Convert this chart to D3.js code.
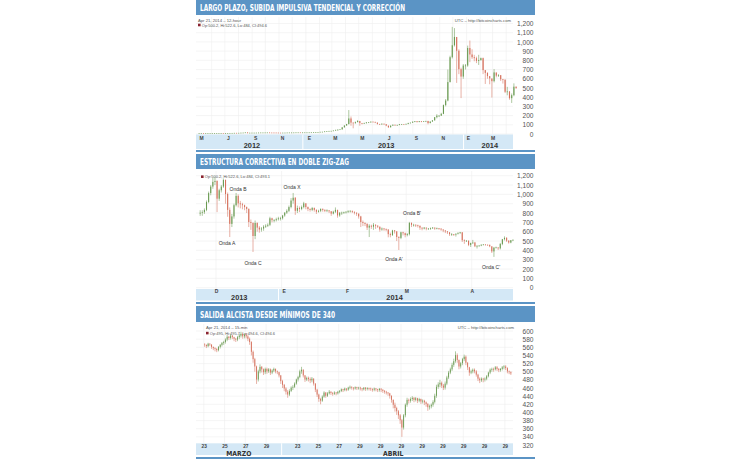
<!DOCTYPE html>
<html><head><meta charset="utf-8">
<script src="https://cdn.jsdelivr.net/npm/d3@7/dist/d3.min.js"></script>
<style>html,body{margin:0;padding:0;background:#fff}svg{display:block}</style>
</head><body>
<svg id="chart" width="730" height="460"></svg>
<script>
// ---------------- DATA ----------------
const titles = ["LARGO PLAZO, SUBIDA IMPULSIVA TENDENCIAL Y CORRECCIÓN",
                "ESTRUCTURA CORRECTIVA EN DOBLE ZIG-ZAG",
                "SALIDA ALCISTA DESDE MÍNIMOS DE 340"];
const monthLetters = ["E","F","M","A","M","J","J","A","S","O","N","D"];

// Panel 1: 5-day candles from 2012-05-01
const p1Start = "2012-05-01T00:00:00Z";
const p1Open0 = 5.0;
const p1Close = [5.0,5.1,4.9,5.1,5.1,5.1,5.2,5.4,5.6,6.3,
 6.6,6.4,6.7,6.8,7.4,7.6,8.8,8.7,9.2,10.9,
 11.2,13.5,10.0,10.5,10.6,10.6,11.0,11.6,12.2,12.2,
 12.4,12.8,11.9,11.8,11.7,11.3,10.7,10.6,10.9,11.0,
 11.8,12.3,12.4,12.6,13.4,13.5,13.2,13.3,13.4,13.4,
 13.6,14.2,15.2,17.0,17.9,20.4,21.0,24.5,27.0,29.9,
 31.0,34.5,42.0,44.0,47.0,69.0,89.0,104,165,120,
 118,127,138,116,112,117,123,123,131,129,
 121,106,101,109,103,88,70,88,98,91,
 96,105,105,104,107,117,120,131,137,128,
 137,131,134,139,115,132,145,179,195,196,
 215,310,360,560,830,960,1050,900,700,620,
 740,740,930,860,830,820,790,800,820,690,
 660,625,600,570,665,630,635,590,585,455,
 458,385,418,510,495];
const p1High = [5.2,5.2,5.1,5.2,5.2,5.2,5.3,5.5,5.8,6.5,
 6.8,6.7,6.8,7.0,7.6,7.8,9.0,9.0,9.4,11.0,
 11.6,13.8,15.4,11.0,10.9,10.9,11.2,11.8,12.5,12.4,
 12.6,13.0,12.8,12.0,11.9,11.8,11.3,10.8,11.0,11.2,
 11.9,12.5,12.6,12.8,13.6,13.7,13.5,13.4,13.6,13.6,
 13.8,14.3,15.5,17.5,18.5,20.8,22.0,25.0,27.5,30.5,
 32.0,35.0,43.0,48.0,48.0,72.0,93.0,110,260,190,
 125,135,150,140,118,120,126,126,134,132,
 130,122,106,112,110,103,88,90,100,98,
 98,106,107,106,110,119,122,133,140,138,
 139,138,136,141,140,134,148,182,215,203,
 230,320,380,700,850,1163,1150,1050,920,720,
 760,760,960,1015,920,860,840,860,830,830,
 693,670,625,600,705,665,650,640,598,595,
 512,466,440,550,516];
const p1Low = [4.9,4.9,4.8,4.9,5.0,5.0,5.1,5.2,5.4,5.6,
 6.2,6.2,6.4,6.6,6.8,7.3,7.6,8.4,8.6,9.2,
 10.8,11.2,7.1,9.8,10.2,10.3,10.5,11.0,11.6,12.0,
 12.1,12.3,11.6,11.6,11.5,11.0,10.4,10.4,10.6,10.8,
 11.0,11.8,12.2,12.3,12.6,13.3,13.0,13.1,13.2,13.2,
 13.4,13.6,14.2,15.2,17.0,17.9,20.0,21.0,24.5,27.0,
 29.5,31.0,34.5,37.0,44.0,47.0,69.0,89,104,90,
 62,110,125,90,105,110,112,119,122,125,
 118,102,98,100,100,85,66,70,87,88,
 90,95,103,102,103,106,116,120,128,124,
 127,128,130,132,105,115,132,145,170,185,
 195,215,300,355,560,820,950,555,650,390,
 600,700,730,780,815,790,770,750,795,650,
 543,600,540,396,560,615,620,575,548,445,
 420,372,337,410,490];
const p1YTicks = [0,100,200,300,400,500,600,700,800,900,1000,1100,1200];
const p1MonthTicks = ["2012-05-08","2012-07-08","2012-09-08","2012-11-08","2013-01-08","2013-03-08",
                      "2013-05-08","2013-07-08","2013-09-08","2013-11-08","2014-01-04","2014-03-01"];
const p1Groups = [["2012","2012-05-01","2013-01-01"],["2013","2013-01-01","2014-01-01"],["2014","2014-01-01","2014-04-22"]];

// Panel 2: daily candles from 2013-11-23
const p2Start = "2013-11-23T00:00:00Z";
const p2Open0 = 790;
const p2Close = [800,805,830,915,1010,1080,1130,1140,
 950,1040,1080,1150,1000,830,680,760,880,980,
 900,890,880,860,840,700,690,550,690,640,
 620,630,650,660,670,740,720,720,730,740,740,
 770,800,820,860,930,960,820,850,840,860,
 900,860,840,830,850,830,810,820,840,830,
 820,825,815,790,810,830,770,800,800,805,810,
 815,820,810,800,790,760,700,690,680,640,
 660,650,670,660,650,620,630,625,620,570,
 560,610,600,540,530,590,580,560,
 570,690,670,670,665,660,640,630,640,630,
 630,635,640,630,635,630,620,610,600,590,
 570,570,565,575,585,590,505,500,500,455,475,
 480,440,445,448,458,460,457,456,440,385,
 425,428,418,465,516,530,500,480,505,510];
const p2High = [830,830,850,935,1030,1100,1175,1180,
 1150,1060,1100,1170,1160,1020,860,790,900,1015,
 1000,930,910,890,870,850,730,700,720,700,
 660,650,670,680,690,760,750,735,750,760,760,
 780,810,840,880,960,1015,970,880,870,880,
 920,905,870,850,865,860,840,835,850,850,
 840,840,830,820,825,860,835,810,815,815,820,
 830,830,825,815,805,795,770,720,700,690,
 680,675,693,680,670,655,645,640,635,625,
 590,620,618,605,550,600,600,590,
 585,705,700,685,680,675,665,645,650,645,
 640,645,650,645,645,640,635,625,615,605,
 595,585,575,580,590,598,595,518,510,505,483,
 512,490,455,455,462,466,463,461,460,442,
 437,440,432,480,522,550,542,508,510,516];
const p2Low = [770,770,790,820,905,990,1060,1100,
 810,930,1020,1070,900,760,543,650,740,870,
 860,850,840,830,800,650,620,383,520,600,
 590,600,610,640,650,660,700,700,710,720,720,
 730,760,790,810,850,900,780,800,810,830,
 850,840,820,815,820,815,790,805,810,815,
 810,810,800,770,785,800,750,760,780,790,795,
 800,805,800,785,770,740,650,660,660,618,
 543,630,620,630,640,600,610,610,605,540,
 540,555,580,500,404,520,560,540,
 550,560,650,655,650,645,620,615,625,615,
 620,620,630,620,625,620,610,595,585,575,
 555,555,555,548,570,575,490,470,490,445,436,
 470,435,420,440,445,454,452,450,434,372,
 330,421,404,410,455,506,490,472,476,499];
const p2YTicks = [0,100,200,300,400,500,600,700,800,900,1000,1100,1200];
const p2MonthTicks = ["2013-12-01","2014-01-02","2014-02-01","2014-03-01","2014-04-01"];
const p2Groups = [["2013","2013-11-22","2014-01-01"],["2014","2014-01-01","2014-04-18"]];
const p2Notes = [
  {label:"Onda B",  date:"2013-12-11T10:00:00Z", value:1058},
  {label:"Onda X",  date:"2014-01-06T00:00:00Z", value:1079},
  {label:"Onda A",  date:"2013-12-06T05:00:00Z", value:479},
  {label:"Onda C",  date:"2013-12-18T12:00:00Z", value:265},
  {label:"Onda B'", date:"2014-03-03T18:00:00Z", value:800},
  {label:"Onda A'", date:"2014-02-23T05:00:00Z", value:308},
  {label:"Onda C'", date:"2014-04-10T03:00:00Z", value:222}
];

// Panel 3: 4-hour candles from 2014-03-23
const p3Start = "2014-03-23T00:00:00Z";
const p3Open0 = 566;
const p3Close = [565,562,568,566,560,557,
 555,552,560,565,570,572,
 578,585,582,588,584,580,
 578,584,588,592,586,590,
 586,580,572,548,530,512,
 480,500,511,505,498,506,
 500,505,497,502,506,500,
 498,490,476,467,458,450,
 443,452,460,462,470,480,
 486,500,504,490,480,484,
 481,478,482,470,455,443,
 432,428,438,448,440,446,
 450,447,445,448,446,450,
 452,456,454,458,455,460,
 462,460,458,461,459,460,
 458,456,460,457,459,458,
 457,455,458,456,454,457,
 455,452,450,448,446,440,
 430,418,410,402,392,380,
 362,392,418,430,428,432,
 435,430,434,428,432,426,
 428,424,420,412,414,418,
 425,440,462,468,472,465,
 460,470,485,497,505,516,
 525,540,528,512,520,530,
 536,521,510,497,500,504,
 500,492,482,478,482,480,
 482,488,497,504,506,505,
 510,506,503,506,510,512,
 508,500,498,495];
const p3High = [570,567,571,570,567,562,
 560,558,563,568,573,576,
 582,590,588,592,590,586,
 583,588,593,598,594,594,
 595,590,584,575,552,534,
 515,505,518,514,508,510,
 510,509,508,506,510,508,
 503,500,492,480,470,462,
 455,457,464,467,474,483,
 490,505,512,506,492,488,
 488,486,487,484,472,458,
 446,436,442,452,450,450,
 455,452,450,452,450,453,
 455,459,458,461,459,463,
 466,464,462,464,463,463,
 463,460,462,462,462,461,
 461,459,461,460,458,460,
 460,457,455,453,450,448,
 442,432,424,414,406,396,
 384,396,422,436,434,437,
 440,438,438,436,436,434,
 432,431,427,423,419,422,
 430,446,468,474,480,476,
 470,476,490,502,510,522,
 532,550,545,530,524,534,
 542,540,524,512,505,508,
 508,504,495,486,486,485,
 486,492,500,508,510,510,
 514,514,509,509,514,516,
 516,511,503,501];
const p3Low = [561,558,560,563,556,553,
 550,548,550,557,562,566,
 569,575,578,579,580,575,
 573,575,580,584,581,582,
 582,575,566,540,522,500,
 470,476,496,498,492,494,
 495,497,492,494,499,496,
 494,486,470,460,452,444,
 436,440,450,455,460,468,
 476,484,495,486,475,477,
 476,472,474,466,450,438,
 426,420,426,436,436,438,
 444,443,441,443,442,444,
 447,450,450,452,452,453,
 457,456,454,456,455,456,
 454,452,454,453,454,454,
 453,451,452,452,450,451,
 450,448,446,444,441,434,
 424,410,402,394,384,372,
 340,358,388,414,422,424,
 428,425,427,423,425,421,
 422,418,414,404,407,410,
 414,422,436,458,462,460,
 455,456,467,482,494,502,
 512,522,522,506,508,516,
 526,516,504,490,494,496,
 496,488,477,472,475,474,
 476,479,486,494,500,500,
 503,502,499,500,503,506,
 504,496,494,492];
const p3YTicks = [320,340,360,380,400,420,440,460,480,500,520,540,560,580,600];
const p3DayTicks = ["2014-03-23","2014-03-25","2014-03-27","2014-03-29","2014-04-01","2014-04-03","2014-04-05",
  "2014-04-07","2014-04-09","2014-04-11","2014-04-13","2014-04-15","2014-04-17","2014-04-19","2014-04-21"];
const p3DayLabels = ["23","25","27","29","23","25","27","29","29","29","29","29","29","29","29"];
const p3Groups = [["MARZO","2014-03-22T06:00:00Z","2014-03-30T12:00:00Z"],["ABRIL","2014-03-30T12:00:00Z","2014-04-21T00:00:00Z"]];

// ---------------- STYLE ----------------
const BLUE = "#5b94c5", BAND = "#d4e8f6", GRID = "#eeeeee", UP = "#6a9a52", DOWN = "#d5705b";
const NARROW = "'Liberation Sans Narrow','DejaVu Sans Condensed','Arial Narrow',sans-serif";
const SANS = "'Liberation Sans',Arial,Helvetica,sans-serif";
const svg = d3.select("#chart");
const toDate = s => new Date(s.length === 10 ? s + "T00:00:00Z" : s);

function drawPanel(cfg) {
  const g = svg.append("g");
  const x = d3.scaleUtc().domain(cfg.xDomain.map(toDate)).range(cfg.xRange);
  const y = d3.scaleLinear().domain(cfg.yDomain).range(cfg.yRange);
  const bx0 = 196, bx1 = 513;

  // title bar
  g.append("rect").attr("x", 196).attr("y", cfg.barY).attr("width", 339).attr("height", cfg.barH).attr("fill", BLUE);
  g.append("text").attr("x", 200).attr("y", cfg.titleY).text(cfg.title)
    .attr("fill", "#fff").attr("font-family", NARROW).attr("font-weight", "bold").attr("font-size", 8.6)
    .attr("textLength", cfg.titleLen).attr("lengthAdjust", "spacingAndGlyphs");

  // grid
  const grid = g.append("g").attr("stroke", GRID).attr("stroke-width", 0.6);
  grid.selectAll("line.h").data(cfg.yTicks).join("line").attr("class", "h")
    .attr("x1", bx0).attr("x2", bx1).attr("y1", d => y(d)).attr("y2", d => y(d));
  grid.selectAll("line.v").data(cfg.vGrid).join("line").attr("class", "v")
    .attr("x1", d => x(d)).attr("x2", d => x(d)).attr("y1", cfg.plotTop).attr("y2", cfg.bandTop);

  // header texts
  if (cfg.dateText) g.append("text").attr("x", cfg.textX).attr("y", cfg.dateY).text(cfg.dateText)
    .attr("font-family", SANS).attr("font-size", 4.2).attr("fill", "#555");
  if (cfg.utcText) g.append("text").attr("x", cfg.utcX).attr("y", cfg.dateY).attr("text-anchor", "end").text(cfg.utcText)
    .attr("font-family", SANS).attr("font-size", 4.2).attr("fill", "#555");
  g.append("rect").attr("x", cfg.textX).attr("y", cfg.legY - 2.8).attr("width", 2.6).attr("height", 2.6).attr("fill", "#8a2330");
  g.append("text").attr("x", cfg.textX + 3.8).attr("y", cfg.legY).text(cfg.legText)
    .attr("font-family", SANS).attr("font-size", 4.0).attr("fill", "#555");

  // candles
  const t0 = toDate(cfg.start);
  const data = cfg.close.map((c, i) => ({
    t: cfg.step(t0, i), o: i ? cfg.close[i - 1] : cfg.open0, c, h: cfg.high[i], l: cfg.low[i]
  }));
  const bw = x(cfg.step(t0, 1)) - x(t0);
  const bodyW = Math.max(0.7, bw * 0.5);
  const cg = g.append("g").selectAll("g").data(data).join("g")
    .attr("stroke", d => d.c >= d.o ? UP : DOWN).attr("fill", d => d.c >= d.o ? UP : DOWN);
  cg.append("line")
    .attr("x1", d => x(d.t) + bw / 2).attr("x2", d => x(d.t) + bw / 2)
    .attr("y1", d => y(Math.max(d.h, d.o, d.c))).attr("y2", d => y(Math.min(d.l, d.o, d.c)))
    .attr("stroke-width", 0.55);
  cg.append("rect")
    .attr("x", d => x(d.t) + bw / 2 - bodyW / 2).attr("width", bodyW)
    .attr("y", d => y(Math.max(d.o, d.c)) - 0.35)
    .attr("height", d => Math.max(0.7, Math.abs(y(d.o) - y(d.c))))
    .attr("stroke", "none");

  // annotations
  (cfg.notes || []).forEach(n => {
    g.append("text").attr("x", x(toDate(n.date))).attr("y", y(n.value)).attr("dy", "0.35em")
      .attr("text-anchor", "middle").text(n.label)
      .attr("font-family", SANS).attr("font-size", 5).attr("fill", "#333");
  });

  // y axis (labels only, right side)
  const ya = g.append("g").attr("transform", "translate(533.5,0)")
    .call(d3.axisRight(y).tickValues(cfg.yTicks).tickSize(0).tickPadding(0).tickFormat(d3.format(",")));
  ya.select(".domain").remove();
  ya.selectAll("text").attr("x", 0).attr("text-anchor", "end")
    .attr("font-family", SANS).attr("font-size", 6.6).attr("fill", "#555");

  // bottom band
  g.append("rect").attr("x", bx0).attr("y", cfg.bandTop).attr("width", bx1 - bx0).attr("height", cfg.bandH).attr("fill", BAND);
  cfg.groups.slice(1).forEach(gr => {
    const sx = x(toDate(gr[1])) - cfg.splitShift;
    g.append("line").attr("x1", sx).attr("x2", sx).attr("y1", cfg.bandTop).attr("y2", cfg.bandTop + cfg.bandH)
      .attr("stroke", "#fff").attr("stroke-width", 1);
  });
  const ma = g.append("g").attr("transform", `translate(0,${cfg.tickY})`)
    .call(d3.axisBottom(x).tickValues(cfg.ticks.map(toDate)).tickSize(0).tickFormat(cfg.tickFmt));
  ma.select(".domain").remove();
  ma.selectAll("text").attr("y", 0).attr("dy", 0)
    .attr("font-family", SANS).attr("font-weight", "bold").attr("font-size", cfg.tickSize).attr("fill", "#444");
  cfg.groups.forEach(gr => {
    const a = Math.max(bx0, x(toDate(gr[1]))), b = Math.min(bx1, x(toDate(gr[2])));
    const t = g.append("text").attr("x", (a + b) / 2).attr("y", cfg.groupY).attr("text-anchor", "middle").text(gr[0])
      .attr("font-weight", "bold").attr("fill", "#333");
    if (cfg.groupNarrow) t.attr("font-family", NARROW).attr("font-size", 6.8);
    else t.attr("font-family", SANS).attr("font-size", 7.4);
  });

  // blue rule under band
  g.append("rect").attr("x", 196).attr("y", cfg.lineY).attr("width", 339).attr("height", 2).attr("fill", BLUE);
}

// ---------------- PANELS ----------------
drawPanel({
  title: titles[0], titleLen: 205, barY: 0, barH: 15, titleY: 10.8,
  xDomain: ["2012-05-01", "2014-04-21"], xRange: [198, 515],
  yDomain: [0, 1200], yRange: [134, 23.5], yTicks: p1YTicks,
  vGrid: d3.utcMonth.range(toDate("2012-06-01"), toDate("2014-04-21")),
  plotTop: 17, bandTop: 134.5, bandH: 14.5, lineY: 150,
  textX: 198, dateY: 21.8, legY: 26.5, utcX: 511,
  dateText: "Apr 21, 2014 – 12-hour", utcText: "UTC – http://bitcoincharts.com",
  legText: "Op:500.2, Hi:522.6, Lo:484, Cl:494.6",
  start: p1Start, step: (t, i) => d3.utcDay.offset(t, 5 * i), open0: p1Open0,
  close: p1Close, high: p1High, low: p1Low,
  ticks: p1MonthTicks, tickFmt: d => monthLetters[d.getUTCMonth()], tickY: 139.8, tickSize: 5,
  groups: p1Groups, groupY: 147.6, groupNarrow: false, splitShift: 3
});

drawPanel({
  title: titles[1], titleLen: 149, barY: 154, barH: 15, titleY: 164.8,
  xDomain: ["2013-11-22", "2014-04-21"], xRange: [197, 514],
  yDomain: [0, 1200], yRange: [287.7, 175.7], yTicks: p2YTicks,
  vGrid: d3.utcMonth.range(toDate("2013-12-01"), toDate("2014-04-21")),
  plotTop: 171, bandTop: 289, bandH: 11.5, lineY: 302,
  textX: 201, dateY: 0, legY: 178.2, utcX: 511,
  dateText: null, utcText: null,
  legText: "Op:500.2, Hi:522.6, Lo:484, Cl:493.1",
  start: p2Start, step: (t, i) => d3.utcDay.offset(t, i), open0: p2Open0,
  close: p2Close, high: p2High, low: p2Low,
  notes: p2Notes,
  ticks: p2MonthTicks, tickFmt: d => monthLetters[d.getUTCMonth()], tickY: 293.4, tickSize: 5,
  groups: p2Groups, groupY: 300.4, groupNarrow: false, splitShift: 3
});

drawPanel({
  title: titles[2], titleLen: 135, barY: 306, barH: 16, titleY: 317.6,
  xDomain: ["2014-03-22T06:00:00Z", "2014-04-21T18:00:00Z"], xRange: [196, 512.6],
  yDomain: [320, 600], yRange: [445, 331], yTicks: p3YTicks,
  vGrid: p3DayTicks.map(toDate),
  plotTop: 324, bandTop: 443.3, bandH: 11.7, lineY: 457,
  textX: 206, dateY: 328.6, legY: 334.6, utcX: 514,
  dateText: "Apr 21, 2014 – 15-min", utcText: "UTC – http://bitcoincharts.com",
  legText: "Op:495, Hi:495.7, Lo:494.6, Cl:494.6",
  start: p3Start, step: (t, i) => d3.utcHour.offset(t, 4 * i), open0: p3Open0,
  close: p3Close, high: p3High, low: p3Low,
  ticks: p3DayTicks, tickFmt: (d, i) => p3DayLabels[i], tickY: 448.4, tickSize: 4.8,
  groups: p3Groups, groupY: 456.2, groupNarrow: true, splitShift: 0
});
</script>
</body></html>
